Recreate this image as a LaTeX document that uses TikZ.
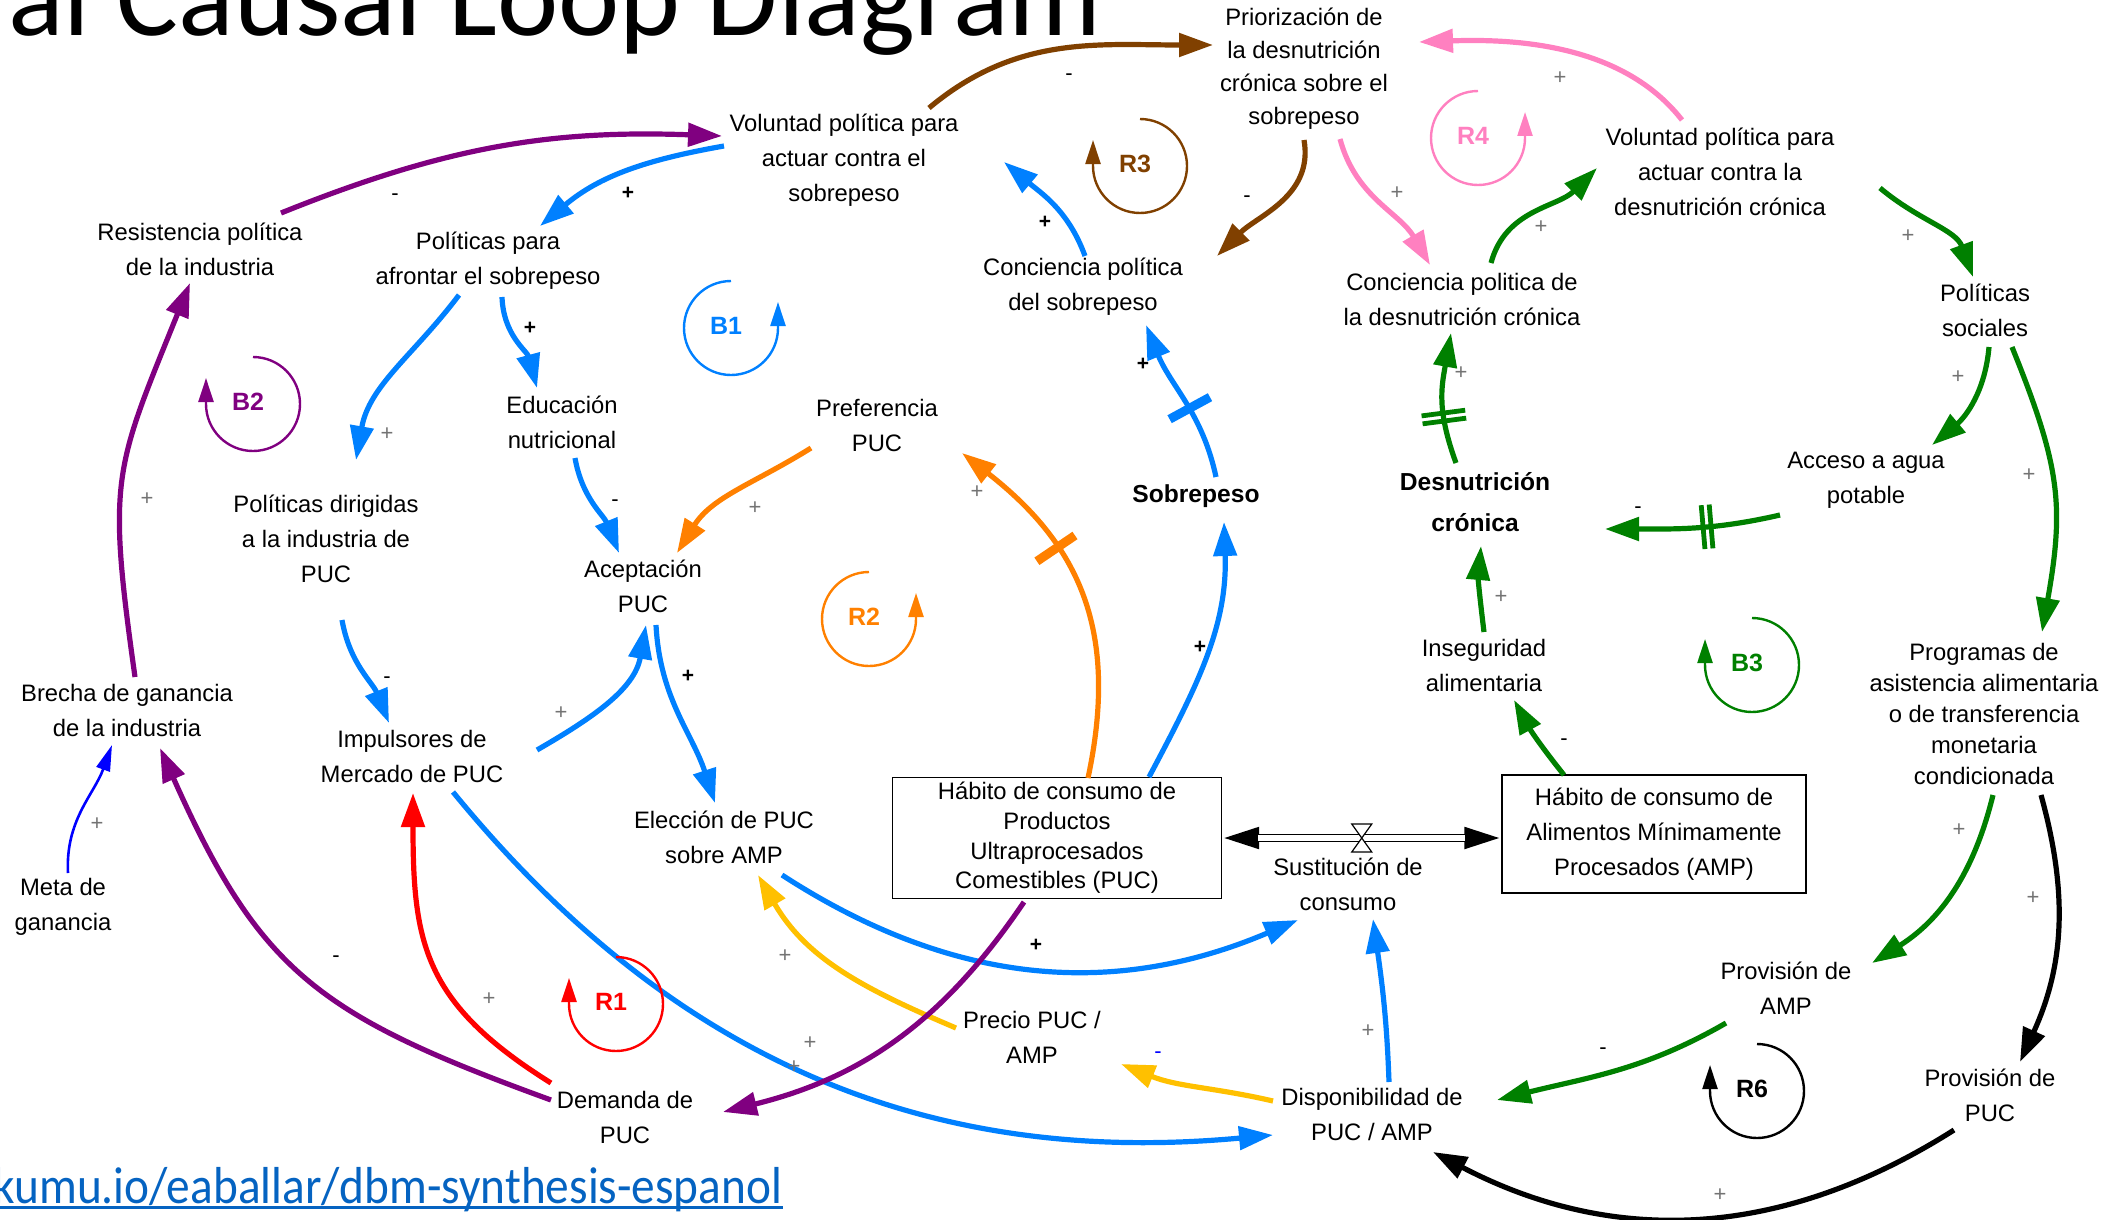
\documentclass[tikz,border=0pt]{standalone}
\usepackage{fontspec}
\setmainfont{Liberation Sans}
\newfontfamily\titlefont{Carlito}
\newfontfamily\linkfont[FakeStretch=0.91]{Carlito}
\usepackage{xcolor}
\usepackage{tikz}
\usetikzlibrary{arrows.meta,calc,decorations.markings}

\definecolor{cpurple}{HTML}{800080}
\definecolor{cblue}{HTML}{0080FF}
\definecolor{cbrown}{HTML}{804000}
\definecolor{cpink}{HTML}{FF80C0}
\definecolor{cgreen}{HTML}{008000}
\definecolor{corange}{HTML}{FF8000}
\definecolor{cgold}{HTML}{FFC000}
\definecolor{clink}{HTML}{0563C1}

\begin{document}
\begin{tikzpicture}[x=0.5pt,y=0.5pt,
  var/.style={align=center,inner sep=0pt,font=\fontsize{11.9}{17.5}\selectfont},
  keyvar/.style={var,font=\bfseries\fontsize{12.3}{20.5}\selectfont},
  box/.style={var,draw,line width=0.65pt,font=\fontsize{11.9}{14.85}\selectfont},
  causal/.style={-{Triangle[length=17pt,width=11.5pt]},line width=2.6pt},
  sgn/.style={inner sep=0pt,font=\fontsize{11}{12}\selectfont,text=black!55},
  sgnb/.style={sgn,text=black,font=\bfseries\fontsize{10.5}{12}\selectfont},
  sgnm/.style={sgn,text=black},
  loopname/.style={inner sep=0pt,font=\bfseries\fontsize{12.5}{14}\selectfont},
  loopline/.style={-{Triangle[length=12pt,width=7.5pt]},line width=1.2pt},
  delaymark/.style={postaction={decorate,decoration={markings,
    mark=at position #1 with {\draw[-,line width=4.5pt] (0,-11.5pt) -- (0,11.5pt);}}}},
  ddelaymark/.style={postaction={decorate,decoration={markings,
    mark=at position #1 with {\draw[-,line width=2.4pt] (-2pt,-11pt) -- (-2pt,11pt) (2pt,-11pt) -- (2pt,11pt);}}}}
]
\useasboundingbox (0,0) rectangle (2114,-1220);

\node[anchor=base west,inner sep=0pt,font=\titlefont\fontsize{58}{60}\selectfont] (title) at (8,-36) {al Causal Loop Diagram};
\node[anchor=base west,inner sep=0pt,text=clink,font=\linkfont\fontsize{26}{28}\selectfont] (url) at (-7,-1203) {kumu.io/eaballar/dbm-synthesis-espanol};
\draw[clink,line width=1.2pt] ([yshift=-2.2pt]url.base west) -- ([yshift=-2.2pt]url.base east);

% variables
\node[var] (vol)    at (844,-160)  {Voluntad política para\\actuar contra el\\sobrepeso};
\node[var,font=\fontsize{11.9}{16.5}\selectfont] (prio) at (1304,-69) {Priorización de\\la desnutrición\\crónica sobre el\\sobrepeso};
\node[var] (vold)   at (1720,-172) {Voluntad política para\\actuar contra la\\desnutrición crónica};
\node[var] (res)    at (200,-249)  {Resistencia política\\de la industria};
\node[var] (polsob) at (488,-261)  {Políticas para\\afrontar el sobrepeso};
\node[var] (consob) at (1083,-287) {Conciencia política\\del sobrepeso};
\node[var] (condes) at (1462,-299) {Conciencia politica de\\la desnutrición crónica};
\node[var] (polsoc) at (1985,-310) {Políticas\\sociales};
\node[var] (edu)    at (562,-422)  {Educación\\nutricional};
\node[var] (pref)   at (877,-425)  {Preferencia\\PUC};
\node[var] (poldir) at (326,-539)  {Políticas dirigidas\\a la industria de\\PUC};
\node[var] (acep)   at (643,-586)  {Aceptación\\PUC};
\node[keyvar] (sob)  at (1196,-496) {Sobrepeso};
\node[keyvar] (desn) at (1475,-502) {Desnutrición\\crónica};
\node[var] (agua)   at (1866,-480) {Acceso a agua\\potable};
\node[var] (inseg)  at (1484,-665) {Inseguridad\\alimentaria};
\node[var] (brecha) at (127,-710)  {Brecha de ganancia\\de la industria};
\node[var] (impul)  at (412,-756)  {Impulsores de\\Mercado de PUC};
\node[var] (elec)   at (724,-837)  {Elección de PUC\\sobre AMP};
\node[box,minimum width=164.5pt,minimum height=60.5pt] (puc) at (1057,-838) {Hábito de consumo de\\Productos\\Ultraprocesados\\Comestibles (PUC)};
\node[var] (sust)   at (1348,-884) {Sustitución de\\consumo};
\node[box,minimum width=152pt,minimum height=59pt,font=\fontsize{11.9}{17.5}\selectfont] (amp) at (1654,-834) {Hábito de consumo de\\Alimentos Mínimamente\\Procesados (AMP)};
\node[var,font=\fontsize{11.9}{15.5}\selectfont] (prog) at (1984,-714) {Programas de\\asistencia alimentaria\\o de transferencia\\monetaria\\condicionada};
\node[var] (meta)   at (63,-907)   {Meta de\\ganancia};
\node[var] (dem)    at (625,-1117) {Demanda de\\PUC};
\node[var] (precio) at (1032,-1037) {Precio PUC /\\AMP};
\node[var] (provamp) at (1786,-988) {Provisión de\\AMP};
\node[var] (provpuc) at (1990,-1095) {Provisión de\\PUC};
\node[var] (disp)   at (1372,-1114) {Disponibilidad de\\PUC / AMP};

% flow between the two habits
\draw[line width=3.8pt,{Triangle[length=18.5pt,width=10pt]}-{Triangle[length=18.5pt,width=10pt]}] (puc.east) -- (puc.east -| amp.west) coordinate[midway] (valve);
\draw[white,line width=2.6pt,shorten <=18pt,shorten >=18pt] (puc.east) -- (puc.east -| amp.west);
\draw[fill=white,line width=0.6pt] ([shift={(-10,14)}]valve) -- ([shift={(10,14)}]valve) -- ([shift={(-10,-14)}]valve) -- ([shift={(10,-14)}]valve) -- cycle;

% links
\draw[causal,cpurple] ($(res)+(81,36)$) to[bend left=12] ($(vol)+(-122,24)$);
\draw[causal,cblue] ($(vol)+(-120,14)$) to[out=190,in=40] ($(polsob)+(52,35)$);
\draw[causal,cbrown] ($(vol)+(85,52)$) to[out=40,in=180] ($(prio)+(-91,24)$);
\draw[causal,cbrown] ($(prio)+(0,-71)$) to[out=-80,in=45] ($(consob)+(134,31)$);
\draw[causal,cblue] ($(consob)+(2,31)$) to[out=110,in=-40] ($(vol)+(160,-2)$);
\draw[causal,cpink] ($(vold)+(-38,52)$) to[out=128,in=2,looseness=0.9] ($(prio)+(115,27)$);
\draw[causal,cpink] ($(prio)+(36,-70)$) to[out=-75,in=120] ($(condes)+(-32,34)$);
\draw[causal,cgreen] ($(condes)+(29,36)$) to[out=75,in=-135] ($(vold)+(-123,4)$);
\draw[causal,cgreen] ($(vold)+(160,-16)$) to[out=-40,in=110] ($(polsoc)+(-12,33)$);
\draw[causal,cgreen] ($(polsoc)+(4,-37)$) to[out=-95,in=40] ($(agua)+(66,35)$);
\draw[causal,cgreen] ($(polsoc)+(27,-37)$) to[out=-68,in=80,looseness=1.15] ($(prog)+(58,82)$);
\draw[causal,cgreen,ddelaymark=0.42] ($(agua)+(-86,-35)$) to[out=193,in=0] ($(desn)+(130,-27)$);
\draw[causal,cgreen] ($(inseg)+(0,33)$) to[out=97,in=-95] ($(desn)+(6,-44)$);
\draw[causal,cgreen,ddelaymark=0.36] ($(desn)+(-19,39)$) to[out=110,in=-100,looseness=1.1] ($(condes)+(-11,-34)$);
\draw[causal,cgreen] ($(amp)+(-90,59)$) to[bend left=5] ($(inseg)+(30,-35)$);
\draw[causal,cgreen] ($(prog)+(9,-81)$) to[bend left=22] ($(provamp)+(86,25)$);
\draw[causal,black] ($(prog)+(57,-81)$) to[bend left=20] ($(provpuc)+(30,33)$);
\draw[causal,cgreen] ($(provamp)+(-60,-35)$) to[out=210,in=14] ($(disp)+(125,14)$);
\draw[causal,black] ($(provpuc)+(-36,-35)$) to[bend left=30] ($(disp)+(61,-38)$);
\draw[causal,cblue] ($(disp)+(17,32)$) to[out=92,in=-82] ($(sust)+(25,-35)$);
\draw[causal,cgold] ($(disp)+(-99,13)$) to[out=167,in=-22] ($(precio)+(89,-27)$);
\draw[causal,cgold] ($(precio)+(-76,9)$) to[out=157,in=-60] ($(elec)+(34,-38)$);
\draw[causal,cblue] ($(elec)+(58,-38)$) to[bend right=28] ($(sust)+(-50,-36)$);
\draw[causal,cblue] ($(impul)+(41,-36)$) to[bend right=28] ($(disp)+(-99,-21)$);
\draw[causal,cpurple] ($(puc)+(-33,-64)$) to[bend left=21] ($(dem)+(98,5)$);
\draw[causal,red] ($(dem)+(-74,34)$) to[out=148,in=-90,looseness=1.2] ($(impul)+(1,-37)$);
\draw[causal,cpurple] ($(dem)+(-74,17)$) to[out=160,in=-66,looseness=1.2] ($(brecha)+(33,-38)$);
\draw[-{Triangle[length=13pt,width=7pt]},line width=1.3pt,blue] ($(meta)+(5,34)$) to[out=93,in=-110] ($(brecha)+(-15,-35)$);
\draw[causal,cpurple] ($(brecha)+(8,33)$) to[out=98,in=-112,looseness=1.3] ($(res)+(-10,-34)$);
\draw[causal,cblue] ($(polsob)+(-29,-34)$) to[out=233,in=80] ($(poldir)+(30,79)$);
\draw[causal,cblue] ($(polsob)+(14,-36)$) to[out=-88,in=105] ($(edu)+(-25,34)$);
\draw[causal,cblue] ($(edu)+(13,-36)$) to[out=-80,in=112] ($(acep)+(-24,33)$);
\draw[causal,corange] ($(pref)+(-66,-23)$) to[out=212,in=58] ($(acep)+(34,33)$);
\draw[causal,cblue] ($(poldir)+(16,-81)$) to[out=-80,in=112] ($(impul)+(-23,33)$);
\draw[causal,cblue] ($(impul)+(125,6)$) to[out=30,in=-100] ($(acep)+(3,-39)$);
\draw[causal,cblue] ($(acep)+(13,-39)$) to[out=-87,in=108] ($(elec)+(-9,34)$);
\draw[causal,corange,delaymark=0.64] ($(puc)+(31,60)$) to[out=78,in=-38,looseness=1.1] ($(pref)+(85,-28)$);
\draw[causal,cblue] ($(puc)+(92,61)$) to[out=62,in=-88] ($(sob)+(28,-26)$);
\draw[causal,cblue,delaymark=0.44] ($(sob)+(20,19)$) to[out=102,in=-68] ($(consob)+(63,-38)$);

% polarities
\node[sgnm] (s1)  at (395,-197)  {-};
\node[sgnb] (s2)  at (628,-193)  {+};
\node[sgnm] (s3)  at (1069,-77)  {-};
\node[sgnm] (s4)  at (1247,-199) {-};
\node[sgnb] (s5)  at (1045,-222) {+};
\node[sgn]  (s6)  at (1560,-78)  {+};
\node[sgn]  (s7)  at (1397,-193) {+};
\node[sgn]  (s8)  at (1541,-227) {+};
\node[sgn]  (s9)  at (1908,-236) {+};
\node[sgn]  (s10) at (1958,-377) {+};
\node[sgn]  (s11) at (2029,-475) {+};
\node[sgnm] (s12) at (1638,-510) {-};
\node[sgn]  (s13) at (1501,-597) {+};
\node[sgn]  (s14) at (1461,-373) {+};
\node[sgnm] (s15) at (1564,-742) {-};
\node[sgn]  (s16) at (1959,-830) {+};
\node[sgn]  (s17) at (2033,-898) {+};
\node[sgnm] (s18) at (1603,-1051) {-};
\node[sgn]  (s19) at (1720,-1195) {+};
\node[sgn]  (s20) at (1368,-1031) {+};
\node[sgnm,text=blue] (s21) at (1158,-1055) {-};
\node[sgn]  (s22) at (785,-956)  {+};
\node[sgnb] (s23) at (1036,-945) {+};
\node[sgn]  (s24) at (810,-1043) {+};
\node[sgn]  (s25) at (794,-1067) {+};
\node[sgn]  (s26) at (489,-999)  {+};
\node[sgnm] (s27) at (336,-959)  {-};
\node[sgn]  (s28) at (97,-824)   {+};
\node[sgn]  (s29) at (147,-499)  {+};
\node[sgn]  (s30) at (387,-434)  {+};
\node[sgnb] (s31) at (530,-328)  {+};
\node[sgnm] (s32) at (615,-503)  {-};
\node[sgn]  (s33) at (755,-508)  {+};
\node[sgnm] (s34) at (387,-680)  {-};
\node[sgn]  (s35) at (561,-713)  {+};
\node[sgnb] (s36) at (688,-676)  {+};
\node[sgn]  (s37) at (977,-492)  {+};
\node[sgnb] (s38) at (1200,-647) {+};
\node[sgnb] (s39) at (1143,-364) {+};

% loops
\node[loopname,text=cbrown] (r3) at (1135,-164) {R3};
\draw[loopline,cbrown] ([shift={(5,45)}]r3.center) arc[start angle=90,end angle=-180,radius=47] -- ++(0,26);
\node[loopname,text=cpink] (r4) at (1473,-136) {R4};
\draw[loopline,cpink] ([shift={(5,45)}]r4.center) arc[start angle=90,end angle=360,radius=47] -- ++(0,26);
\node[loopname,text=cblue] (b1) at (726,-326) {B1};
\draw[loopline,cblue] ([shift={(5,45)}]b1.center) arc[start angle=90,end angle=360,radius=47] -- ++(0,26);
\node[loopname,text=cpurple] (b2) at (248,-402) {B2};
\draw[loopline,cpurple] ([shift={(5,45)}]b2.center) arc[start angle=90,end angle=-180,radius=47] -- ++(0,26);
\node[loopname,text=corange] (r2) at (864,-617) {R2};
\draw[loopline,corange] ([shift={(5,45)}]r2.center) arc[start angle=90,end angle=360,radius=47] -- ++(0,26);
\node[loopname,text=cgreen] (b3) at (1747,-663) {B3};
\draw[loopline,cgreen] ([shift={(5,45)}]b3.center) arc[start angle=90,end angle=-180,radius=47] -- ++(0,26);
\node[loopname,text=red] (r1) at (611,-1002) {R1};
\draw[loopline,red] ([shift={(5,45)}]r1.center) arc[start angle=90,end angle=-180,radius=47] -- ++(0,26);
\node[loopname,text=black] (r6) at (1752,-1089) {R6};
\draw[loopline,black] ([shift={(5,45)}]r6.center) arc[start angle=90,end angle=-180,radius=47] -- ++(0,26);
\end{tikzpicture}
\end{document}
